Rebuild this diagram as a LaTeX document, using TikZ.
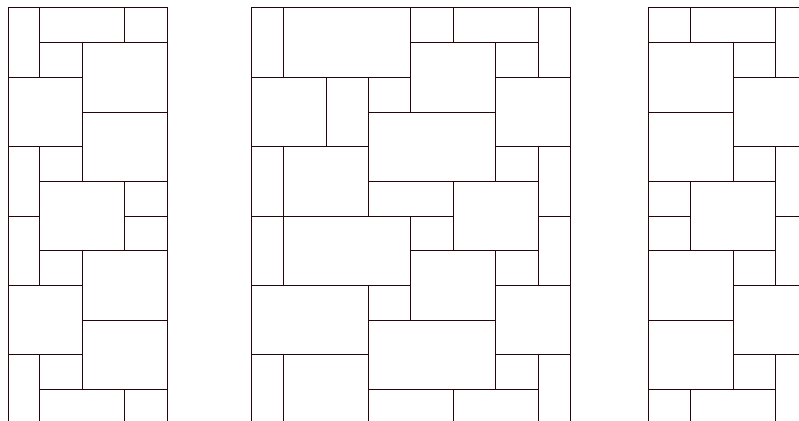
\documentclass[tikz,border=0pt]{standalone}
\definecolor{tileline}{RGB}{38,6,10}
\begin{document}
\begin{tikzpicture}[x=1pt,y=-1pt,tile/.style={draw=tileline,line width=1pt,line cap=rect}]
\useasboundingbox (0,0) rectangle (799,420);
\clip (0,0) rectangle (799,420);
\begin{scope}[yshift=-8pt,y=-34.667pt]
% ---------- left panel ----------
\draw[tile] (8,12.5) -- (8,0) -- (167,0) -- (167,12.5);
\foreach \a/\b in {0/2,4/8,10/12.5} \draw[tile] (39.5,\a) -- (39.5,\b);
\foreach \a/\b in {1/5,7/11} \draw[tile] (82,\a) -- (82,\b);
\foreach \a/\b in {0/1,5/7,11/12.5} \draw[tile] (124.5,\a) -- (124.5,\b);
\foreach \r/\p/\q in {1/39.5/167,2/8/82,3/82/167,4/8/82,5/39.5/167,6/8/39.5,6/124.5/167,7/39.5/167,8/8/82,9/82/167,10/8/82,11/39.5/167}
  \draw[tile] (\p,\r) -- (\q,\r);
% ---------- middle panel ----------
\draw[tile] (251,12.5) -- (251,0) -- (570.3,0) -- (570.3,12.5);
\foreach \a/\b in {0/2,4/8,10/12.5} \draw[tile] (283.3,\a) -- (283.3,\b);
\draw[tile] (326,2) -- (326,4);
\foreach \a/\b in {2/6,8/12.5} \draw[tile] (368.5,\a) -- (368.5,\b);
\foreach \a/\b in {0/3,6/9} \draw[tile] (410.8,\a) -- (410.8,\b);
\foreach \a/\b in {0/1,5/7,11/12.5} \draw[tile] (453.3,\a) -- (453.3,\b);
\foreach \a/\b in {1/5,7/11} \draw[tile] (495.8,\a) -- (495.8,\b);
\foreach \a/\b in {0/2,4/8,10/12.5} \draw[tile] (538.3,\a) -- (538.3,\b);
\foreach \r/\p/\q in {1/410.8/538.3,2/251/410.8,2/495.8/570.3,3/368.5/495.8,4/251/368.5,4/495.8/570.3,5/368.5/538.3,6/251/453.3,6/538.3/570.3,7/410.8/538.3,8/251/410.8,8/495.8/570.3,9/368.5/495.8,10/251/368.5,10/495.8/570.3,11/368.5/538.3}
  \draw[tile] (\p,\r) -- (\q,\r);
% ---------- right panel ----------
\draw[tile] (648,12.5) -- (648,0) -- (820,0);
\foreach \a/\b in {0/1,5/7,11/12.5} \draw[tile] (690.6,\a) -- (690.6,\b);
\foreach \a/\b in {1/5,7/11} \draw[tile] (733,\a) -- (733,\b);
\foreach \a/\b in {0/2,4/8,10/12.5} \draw[tile] (775.6,\a) -- (775.6,\b);
\foreach \r/\p/\q in {1/648/775.6,2/733/820,3/648/733,4/733/820,5/648/775.6,6/648/690.6,6/775.6/820,7/648/775.6,8/733/820,9/648/733,10/733/820,11/648/775.6}
  \draw[tile] (\p,\r) -- (\q,\r);
\end{scope}
\end{tikzpicture}
\end{document}
